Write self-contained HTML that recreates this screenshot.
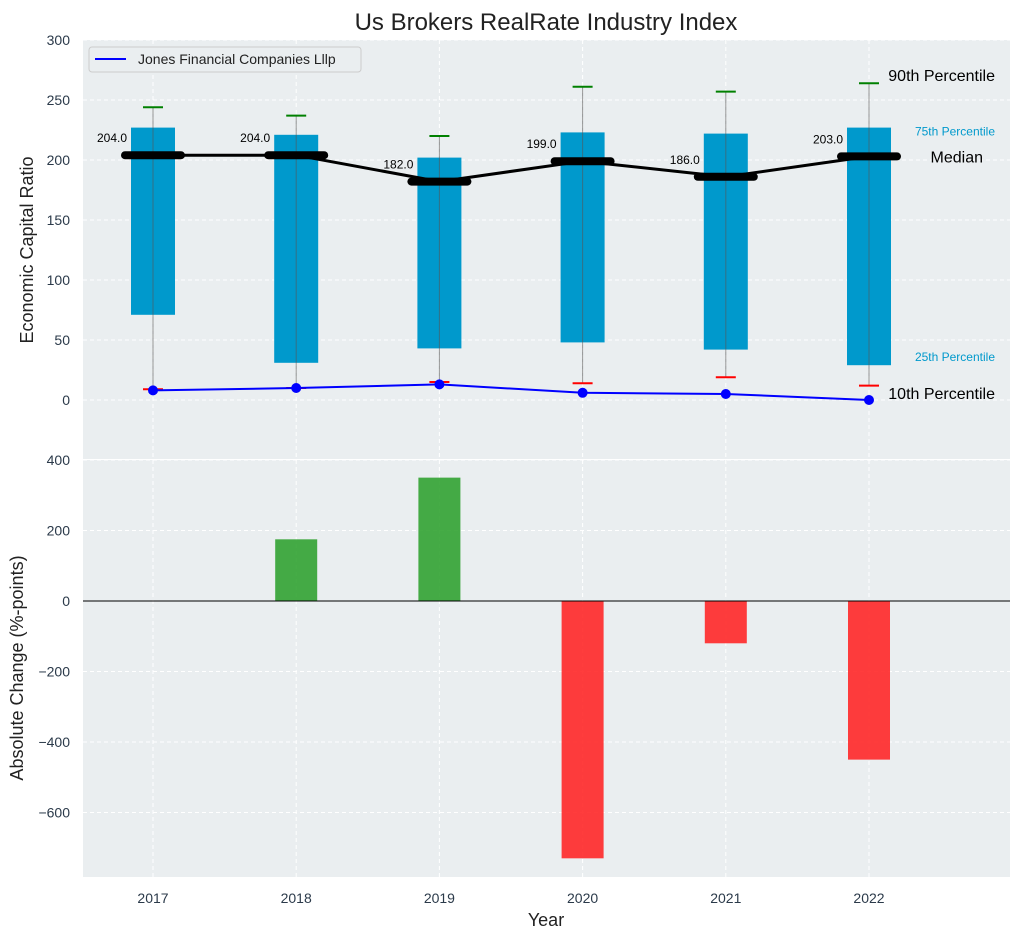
<!DOCTYPE html>
<html><head><meta charset="utf-8"><style>
body{margin:0;background:#fff}
svg{display:block;font-family:"Liberation Sans","DejaVu Sans",sans-serif}
</style></head><body>
<svg id="c" width="1021" height="940" xmlns="http://www.w3.org/2000/svg">
<defs><clipPath id="cb"><rect x="83" y="460" width="927" height="417"/></clipPath></defs>
<text x="546" y="30" font-size="24" text-anchor="middle" fill="#222">Us Brokers RealRate Industry Index</text>
<g id="topg"></g><g id="botg"></g>
</svg>
<script>
const years=[2017,2018,2019,2020,2021,2022];
const p25=[71,31,43,48,42,29];
const p75=[227,221,202,223,222,227];
const p90=[244,237,220,261,257,264];
const p10=[9,10,15,14,19,12];
const median=[204,204,182,199,186,203];
const company=[8,10,13,6,5,0];
const change=[0,175,350,-730,-120,-450];
const topTicks=[0,50,100,150,200,250,300];
const botTicks=[-600,-400,-200,0,200,400];

const NS="http://www.w3.org/2000/svg";
const L=83,R=1010;
const x=v=>153+(v-2017)*143.2;
const yT=v=>400-v*1.2;
const yB=v=>601-v*0.3525;
function el(p,t,a,txt){const e=document.createElementNS(NS,t);for(const k in a)e.setAttribute(k,a[k]);if(txt!==undefined)e.textContent=txt;p.appendChild(e);return e;}
const gTop=document.getElementById('topg'),gBot=document.getElementById('botg');
let b=el(gTop,'rect',{x:L,y:40,width:R-L,height:420,fill:'#eaeef0'});


b=el(gBot,'rect',{x:L,y:460,width:R-L,height:417,fill:'#eaeef0'});


topTicks.forEach(t=>{el(gTop,'line',{x1:L,x2:R,y1:yT(t),y2:yT(t),stroke:'#fff','stroke-dasharray':'4,3'});
 const tx=el(gTop,'text',{x:70,y:yT(t)+5,'font-size':14,'text-anchor':'end',fill:'#2b3a4a'},t);
 
 });
botTicks.forEach(t=>{el(gBot,'line',{x1:L,x2:R,y1:yB(t),y2:yB(t),stroke:'#fff','stroke-dasharray':'4,3'});
 const tx=el(gBot,'text',{x:70,y:yB(t)+5,'font-size':14,'text-anchor':'end',fill:'#2b3a4a'},t<0?'\u2212'+(-t):t);
 
 });
years.forEach(yr=>{el(gTop,'line',{x1:x(yr),x2:x(yr),y1:40,y2:460,stroke:'#fff','stroke-dasharray':'4,3'});
 el(gBot,'line',{x1:x(yr),x2:x(yr),y1:460,y2:877,stroke:'#fff','stroke-dasharray':'4,3'});
 const tx=el(gBot,'text',{x:x(yr),y:903,'font-size':14,'text-anchor':'middle',fill:'#2b3a4a'},yr);
 
 });
el(gTop,'line',{x1:L,x2:R,y1:460,y2:460,stroke:'#fff','stroke-width':2});
years.forEach((yr,i)=>{const cx=x(yr);
 const r=el(gTop,'rect',{x:cx-22,y:yT(p75[i]),width:44,height:yT(p25[i])-yT(p75[i]),fill:'#0099cc'});
 
 
 el(gTop,'line',{x1:cx,x2:cx,y1:yT(p90[i]),y2:yT(p10[i]),stroke:'#555','stroke-opacity':0.6,'stroke-width':1});
 const g=el(gTop,'line',{x1:cx-10,x2:cx+10,y1:yT(p90[i]),y2:yT(p90[i]),stroke:'green','stroke-width':2});
 
 
 const rr=el(gTop,'line',{x1:cx-10,x2:cx+10,y1:yT(p10[i]),y2:yT(p10[i]),stroke:'red','stroke-width':2});
 
 
});
const ml=el(gTop,'polyline',{points:years.map((yr,i)=>x(yr)+','+yT(median[i])).join(' '),fill:'none',stroke:'#000','stroke-width':3});


years.forEach((yr,i)=>{const cx=x(yr);
 const m=el(gTop,'line',{x1:cx-28,x2:cx+28,y1:yT(median[i]),y2:yT(median[i]),stroke:'#000','stroke-width':8,'stroke-linecap':'round'});
 
 
 const t=el(gTop,'text',{x:cx-26,y:yT(median[i])-13,'font-size':12,'text-anchor':'end',fill:'#000'},median[i].toFixed(1));
 
 
});
const cl=el(gTop,'polyline',{points:years.map((yr,i)=>x(yr)+','+yT(company[i])).join(' '),fill:'none',stroke:'#0000ff','stroke-width':2});


years.forEach((yr,i)=>{const c=el(gTop,'circle',{cx:x(yr),cy:yT(company[i]),r:5,fill:'#0000ff'});
 
 });
[[995,yT(p90[5])-2,'90th Percentile',16,'#000'],[995,yT(p75[5])+8,'75th Percentile',12,'#0099cc'],[983,yT(median[5])+6,'Median',16,'#000'],[995,yT(p25[5])-4,'25th Percentile',12,'#0099cc'],[995,yT(company[5])-1,'10th Percentile',16,'#000']].forEach(a=>{
 const t=el(gTop,'text',{x:a[0],y:a[1],'font-size':a[3],'text-anchor':'end',fill:a[4]},a[2]);
 
 });
const lg=el(gTop,'g',{});


el(lg,'rect',{x:89,y:47,width:272,height:25,rx:3,fill:'#eaeef0',stroke:'#ccc'});
el(lg,'line',{x1:95,x2:126,y1:59,y2:59,stroke:'#0000ff','stroke-width':2});
el(lg,'text',{x:138,y:64,'font-size':14,fill:'#222'},'Jones Financial Companies Lllp');
const bars=el(gBot,'g',{'clip-path':'url(#cb)'});
years.forEach((yr,i)=>{const v=change[i];if(v===0)return;
 const r=el(bars,'rect',{x:x(yr)-21,y:Math.min(yB(v),yB(0)),width:42,height:Math.abs(yB(v)-yB(0)),fill:v>0?'#2ca02c':'#ff2222','fill-opacity':0.88});
 
 });
el(gBot,'line',{x1:L,x2:R,y1:yB(0),y2:yB(0),stroke:'#000','stroke-width':1});
let t=el(gTop,'text',{x:33,y:250,'font-size':18,'text-anchor':'middle',fill:'#222',transform:'rotate(-90 33 250)'},'Economic Capital Ratio');


t=el(gBot,'text',{x:23,y:668,'font-size':18,'text-anchor':'middle',fill:'#222',transform:'rotate(-90 23 668)'},'Absolute Change (%-points)');


t=el(gBot,'text',{x:546,y:926,'font-size':18,'text-anchor':'middle',fill:'#222'},'Year');


</script>
</body></html>
